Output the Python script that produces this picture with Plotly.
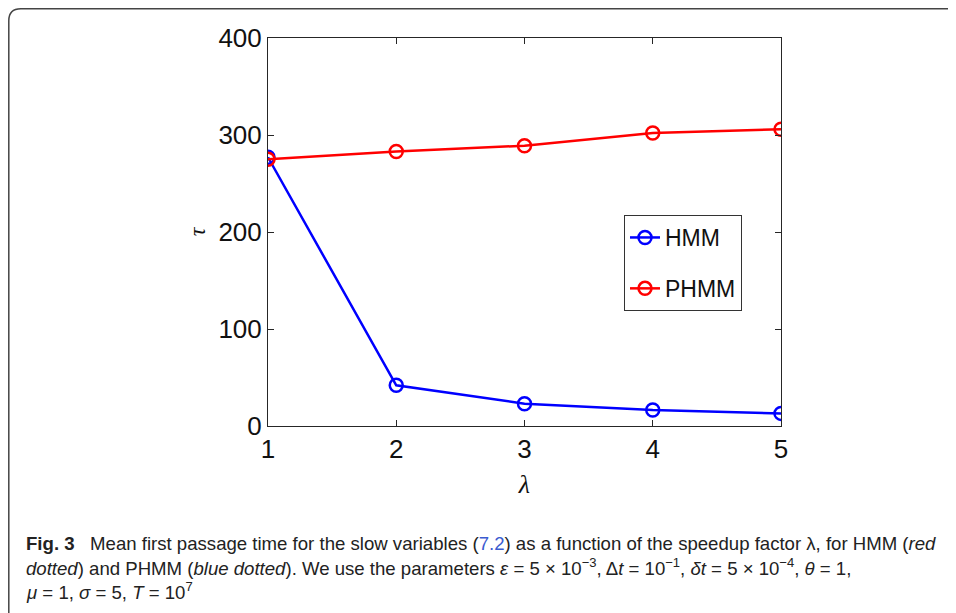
import plotly.graph_objects as go

lam = [1, 2, 3, 4, 5]
hmm = [277, 42, 23, 16.5, 13]
phmm = [275, 283, 289, 302, 306]
y_ticks = [0, 100, 200, 300, 400]
x_ticks = [1, 2, 3, 4, 5]

W, H = 956, 613
OFF = 8  # page body margin
L, R, T, B = 268 - OFF, 781 - OFF, 38 - OFF, 426 - OFF

def px(x):
    return (x - OFF - L) / (R - L)

def py(y):
    return (B - (y - OFF)) / (B - T)

def fx(x):
    return (x - L) / (R - L)

def fy(y):
    return (B - y) / (B - T)

fig = go.Figure()
fig.add_trace(go.Scatter(x=lam, y=hmm, name="HMM", mode="lines+markers",
                         line=dict(color="#0000ff", width=2.5),
                         marker=dict(symbol="circle-open", size=13, color="#0000ff", line=dict(width=2.5)),
                         legendgroup="a"))
fig.add_trace(go.Scatter(x=lam, y=phmm, name="PHMM", mode="lines+markers",
                         line=dict(color="#ff0000", width=2.5),
                         marker=dict(symbol="circle-open", size=13, color="#ff0000", line=dict(width=2.5)),
                         legendgroup="b"))

axis_common = dict(showgrid=False, zeroline=False, showline=True, linecolor="#262626", linewidth=1,
                   mirror="ticks", ticks="inside", ticklen=6, tickcolor="#262626",
                   tickfont=dict(family="Liberation Sans, Arial, sans-serif", size=26, color="#111"))

fig.update_xaxes(range=[1, 5], tickvals=x_ticks, ticktext=[str(v) for v in x_ticks],
                 title=dict(text="<i>λ</i>", font=dict(family="Liberation Serif, serif", size=26, color="#111"), standoff=11),
                 **axis_common)
fig.update_yaxes(range=[0, 400], tickvals=y_ticks, ticktext=[str(v) for v in y_ticks],
                 title=dict(text="<i>τ</i>", font=dict(family="Liberation Serif, serif", size=24, color="#111"), standoff=6),
                 **axis_common)

fig.update_layout(
    width=W, height=H,
    margin=dict(l=L, r=W - R, t=T, b=H - B, pad=0),
    paper_bgcolor="white", plot_bgcolor="white",
    showlegend=True,
    legend=dict(x=px(624), y=py(215), xanchor="left", yanchor="top",
                bgcolor="white", bordercolor="#333", borderwidth=1,
                font=dict(family="Liberation Sans, Arial, sans-serif", size=23, color="#111"),
                traceorder="grouped", tracegroupgap=18, itemwidth=30),
)

# frame around the figure (rounded top-left corner), drawn at the figure's top-left edge
xl, yt = fx(0.8), fy(0.8)
rx, ry = 12 / (R - L), 12 / (B - T)
yb, xr = fy(H + 20), fx(W + 20)
fig.add_shape(type="path", xref="paper", yref="paper",
              path=f"M {xl},{yb} L {xl},{yt - ry} Q {xl},{yt} {xl + rx},{yt} L {xr},{yt}",
              line=dict(color="#444", width=1.5))

cap_font = dict(family="Liberation Sans Narrow, Arial Narrow, Liberation Sans, sans-serif", size=18.6, color="#222")
lines = [
    "<b>Fig. 3</b>   Mean first passage time for the slow variables (<span style='color:#3a5bd0'>7.2</span>) as a function of the speedup factor λ, for HMM (<i>red</i>",
    "<i>dotted</i>) and PHMM (<i>blue dotted</i>). We use the parameters <i>ε</i> = 5 × 10<sup>−3</sup>, Δ<i>t</i> = 10<sup>−1</sup>, <i>δt</i> = 5 × 10<sup>−4</sup>, <i>θ</i> = 1,",
    "<i>μ</i> = 1, <i>σ</i> = 5, <i>T</i> = 10<sup>7</sup>",
]
for i, t in enumerate(lines):
    fig.add_annotation(text=t, xref="paper", yref="paper", x=px(24), y=py(543 + 24 * i),
                       xanchor="left", yanchor="middle", showarrow=False, font=cap_font, align="left")

fig.write_html("out.html")
